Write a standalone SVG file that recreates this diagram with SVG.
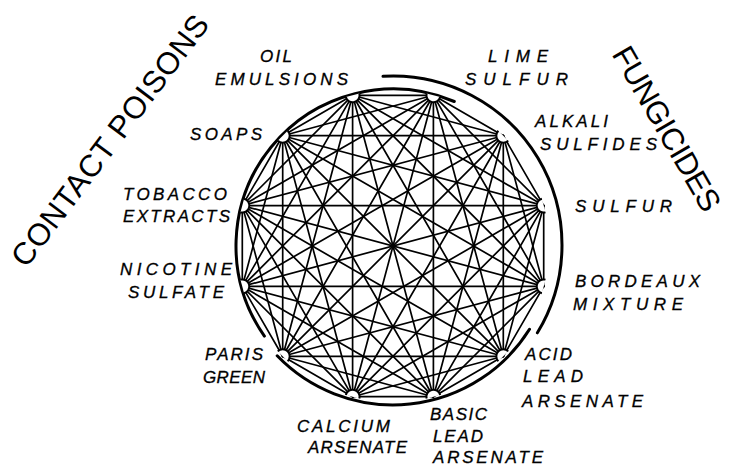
<svg xmlns="http://www.w3.org/2000/svg" width="731" height="467" viewBox="0 0 731 467">
<style>
.bg{fill:#fff}
.ln line{stroke:#000;stroke-width:1.7;stroke-linecap:round}
.arc{fill:none;stroke:#000;stroke-width:3;stroke-linecap:round}
.cup{fill:#fff;stroke:#000;stroke-width:2}
.lbl{font-family:"Liberation Sans",Arial,sans-serif;font-style:italic;font-size:17px;fill:#000;stroke:#000;stroke-width:0.3}
.big{font-family:"Liberation Sans",Arial,sans-serif;font-size:31px;fill:#000}
</style>
<defs>
<path id="cupShape" class="cup" d="M-7 0A7 7 0 0 0 7 0"/>
</defs>
<rect class="bg" x="0" y="0" width="731" height="467"/>
<g id="connectors" class="ln">
<line x1="543.7" y1="286.4" x2="503.3" y2="356.3"/>
<line x1="543.7" y1="286.4" x2="433.4" y2="396.7"/>
<line x1="543.7" y1="286.4" x2="352.6" y2="396.7"/>
<line x1="543.7" y1="286.4" x2="282.7" y2="356.3"/>
<line x1="543.7" y1="286.4" x2="242.3" y2="286.4"/>
<line x1="543.7" y1="286.4" x2="242.3" y2="205.6"/>
<line x1="543.7" y1="286.4" x2="282.7" y2="135.7"/>
<line x1="543.7" y1="286.4" x2="352.6" y2="95.3"/>
<line x1="543.7" y1="286.4" x2="433.4" y2="95.3"/>
<line x1="543.7" y1="286.4" x2="503.3" y2="135.7"/>
<line x1="543.7" y1="286.4" x2="543.7" y2="205.6"/>
<line x1="503.3" y1="356.3" x2="433.4" y2="396.7"/>
<line x1="503.3" y1="356.3" x2="352.6" y2="396.7"/>
<line x1="503.3" y1="356.3" x2="282.7" y2="356.3"/>
<line x1="503.3" y1="356.3" x2="242.3" y2="286.4"/>
<line x1="503.3" y1="356.3" x2="242.3" y2="205.6"/>
<line x1="503.3" y1="356.3" x2="282.7" y2="135.7"/>
<line x1="503.3" y1="356.3" x2="352.6" y2="95.3"/>
<line x1="503.3" y1="356.3" x2="433.4" y2="95.3"/>
<line x1="503.3" y1="356.3" x2="503.3" y2="135.7"/>
<line x1="503.3" y1="356.3" x2="543.7" y2="205.6"/>
<line x1="433.4" y1="396.7" x2="352.6" y2="396.7"/>
<line x1="433.4" y1="396.7" x2="282.7" y2="356.3"/>
<line x1="433.4" y1="396.7" x2="242.3" y2="286.4"/>
<line x1="433.4" y1="396.7" x2="242.3" y2="205.6"/>
<line x1="433.4" y1="396.7" x2="282.7" y2="135.7"/>
<line x1="433.4" y1="396.7" x2="352.6" y2="95.3"/>
<line x1="433.4" y1="396.7" x2="433.4" y2="95.3"/>
<line x1="433.4" y1="396.7" x2="503.3" y2="135.7"/>
<line x1="433.4" y1="396.7" x2="543.7" y2="205.6"/>
<line x1="352.6" y1="396.7" x2="282.7" y2="356.3"/>
<line x1="352.6" y1="396.7" x2="242.3" y2="286.4"/>
<line x1="352.6" y1="396.7" x2="242.3" y2="205.6"/>
<line x1="352.6" y1="396.7" x2="282.7" y2="135.7"/>
<line x1="352.6" y1="396.7" x2="352.6" y2="95.3"/>
<line x1="352.6" y1="396.7" x2="433.4" y2="95.3"/>
<line x1="352.6" y1="396.7" x2="503.3" y2="135.7"/>
<line x1="352.6" y1="396.7" x2="543.7" y2="205.6"/>
<line x1="282.7" y1="356.3" x2="242.3" y2="286.4"/>
<line x1="282.7" y1="356.3" x2="242.3" y2="205.6"/>
<line x1="282.7" y1="356.3" x2="282.7" y2="135.7"/>
<line x1="282.7" y1="356.3" x2="352.6" y2="95.3"/>
<line x1="282.7" y1="356.3" x2="433.4" y2="95.3"/>
<line x1="282.7" y1="356.3" x2="503.3" y2="135.7"/>
<line x1="282.7" y1="356.3" x2="543.7" y2="205.6"/>
<line x1="242.3" y1="286.4" x2="242.3" y2="205.6"/>
<line x1="242.3" y1="286.4" x2="282.7" y2="135.7"/>
<line x1="242.3" y1="286.4" x2="352.6" y2="95.3"/>
<line x1="242.3" y1="286.4" x2="433.4" y2="95.3"/>
<line x1="242.3" y1="286.4" x2="503.3" y2="135.7"/>
<line x1="242.3" y1="286.4" x2="543.7" y2="205.6"/>
<line x1="242.3" y1="205.6" x2="282.7" y2="135.7"/>
<line x1="242.3" y1="205.6" x2="352.6" y2="95.3"/>
<line x1="242.3" y1="205.6" x2="433.4" y2="95.3"/>
<line x1="242.3" y1="205.6" x2="503.3" y2="135.7"/>
<line x1="242.3" y1="205.6" x2="543.7" y2="205.6"/>
<line x1="282.7" y1="135.7" x2="352.6" y2="95.3"/>
<line x1="282.7" y1="135.7" x2="433.4" y2="95.3"/>
<line x1="282.7" y1="135.7" x2="503.3" y2="135.7"/>
<line x1="282.7" y1="135.7" x2="543.7" y2="205.6"/>
<line x1="352.6" y1="95.3" x2="433.4" y2="95.3"/>
<line x1="352.6" y1="95.3" x2="503.3" y2="135.7"/>
<line x1="352.6" y1="95.3" x2="543.7" y2="205.6"/>
<line x1="433.4" y1="95.3" x2="503.3" y2="135.7"/>
<line x1="433.4" y1="95.3" x2="543.7" y2="205.6"/>
<line x1="503.3" y1="135.7" x2="543.7" y2="205.6"/>
</g>
<g id="group-arcs">
<path id="arc-contact" class="arc" d="M264.4 336.1A157 157 0 0 1 454.3 101.5"/>
<path id="arc-stomach" class="arc" d="M277.2 355.8A161 161 0 0 0 529.5 329.3"/>
<path id="arc-fungicides" class="arc" d="M383 76.3A169 169 0 0 1 537.4 332.8"/>
<text class="big" text-anchor="middle" textLength="306" lengthAdjust="spacing" transform="translate(118.4 146.8) rotate(-53)">CONTACT POISONS</text>
<text class="big" text-anchor="middle" textLength="185" lengthAdjust="spacing" transform="translate(657.6 134) rotate(60)">FUNGICIDES</text>
</g>
<g id="node-bordeaux"><use href="#cupShape" transform="translate(543.7 286.4) rotate(105)"/><text class="lbl" x="575" y="287" textLength="125" lengthAdjust="spacing">BORDEAUX</text><text class="lbl" x="573" y="310" textLength="110" lengthAdjust="spacing">MIXTURE</text></g>
<g id="node-acid-lead-arsenate"><use href="#cupShape" transform="translate(503.3 356.3) rotate(135)"/><text class="lbl" x="525" y="360" textLength="47" lengthAdjust="spacing">ACID</text><text class="lbl" x="523" y="382" textLength="60" lengthAdjust="spacing">LEAD</text><text class="lbl" x="522" y="407" textLength="121" lengthAdjust="spacing">ARSENATE</text></g>
<g id="node-basic-lead-arsenate"><use href="#cupShape" transform="translate(433.4 396.7) rotate(165)"/><text class="lbl" x="430" y="420" textLength="57" lengthAdjust="spacing">BASIC</text><text class="lbl" x="433" y="442" textLength="50" lengthAdjust="spacing">LEAD</text><text class="lbl" x="433" y="463" textLength="110" lengthAdjust="spacing">ARSENATE</text></g>
<g id="node-calcium-arsenate"><use href="#cupShape" transform="translate(352.6 396.7) rotate(195)"/><text class="lbl" x="297" y="432" textLength="93" lengthAdjust="spacing">CALCIUM</text><text class="lbl" x="308" y="453" textLength="99" lengthAdjust="spacing">ARSENATE</text></g>
<g id="node-paris-green"><use href="#cupShape" transform="translate(282.7 356.3) rotate(225)"/><text class="lbl" x="205" y="360" textLength="58" lengthAdjust="spacing">PARIS</text><text class="lbl" x="203" y="383" textLength="62" lengthAdjust="spacing">GREEN</text></g>
<g id="node-nicotine-sulfate"><use href="#cupShape" transform="translate(242.3 286.4) rotate(255)"/><text class="lbl" x="120" y="275" textLength="112" lengthAdjust="spacing">NICOTINE</text><text class="lbl" x="128" y="298" textLength="96" lengthAdjust="spacing">SULFATE</text></g>
<g id="node-tobacco-extracts"><use href="#cupShape" transform="translate(242.3 205.6) rotate(285)"/><text class="lbl" x="123" y="200" textLength="104" lengthAdjust="spacing">TOBACCO</text><text class="lbl" x="123" y="222" textLength="107" lengthAdjust="spacing">EXTRACTS</text></g>
<g id="node-soaps"><use href="#cupShape" transform="translate(282.7 135.7) rotate(315)"/><text class="lbl" x="190" y="140" textLength="72" lengthAdjust="spacing">SOAPS</text></g>
<g id="node-oil-emulsions"><use href="#cupShape" transform="translate(352.6 95.3) rotate(345)"/><text class="lbl" x="260" y="62" textLength="32" lengthAdjust="spacing">OIL</text><text class="lbl" x="215" y="85" textLength="133" lengthAdjust="spacing">EMULSIONS</text></g>
<g id="node-lime-sulfur"><use href="#cupShape" transform="translate(433.4 95.3) rotate(15)"/><text class="lbl" x="488" y="62" textLength="60" lengthAdjust="spacing">LIME</text><text class="lbl" x="465" y="85" textLength="103" lengthAdjust="spacing">SULFUR</text></g>
<g id="node-alkali-sulfides"><use href="#cupShape" transform="translate(503.3 135.7) rotate(45)"/><text class="lbl" x="535" y="127" textLength="73" lengthAdjust="spacing">ALKALI</text><text class="lbl" x="540" y="150" textLength="117" lengthAdjust="spacing">SULFIDES</text></g>
<g id="node-sulfur"><use href="#cupShape" transform="translate(543.7 205.6) rotate(75)"/><text class="lbl" x="575" y="212" textLength="97" lengthAdjust="spacing">SULFUR</text></g>
</svg>
